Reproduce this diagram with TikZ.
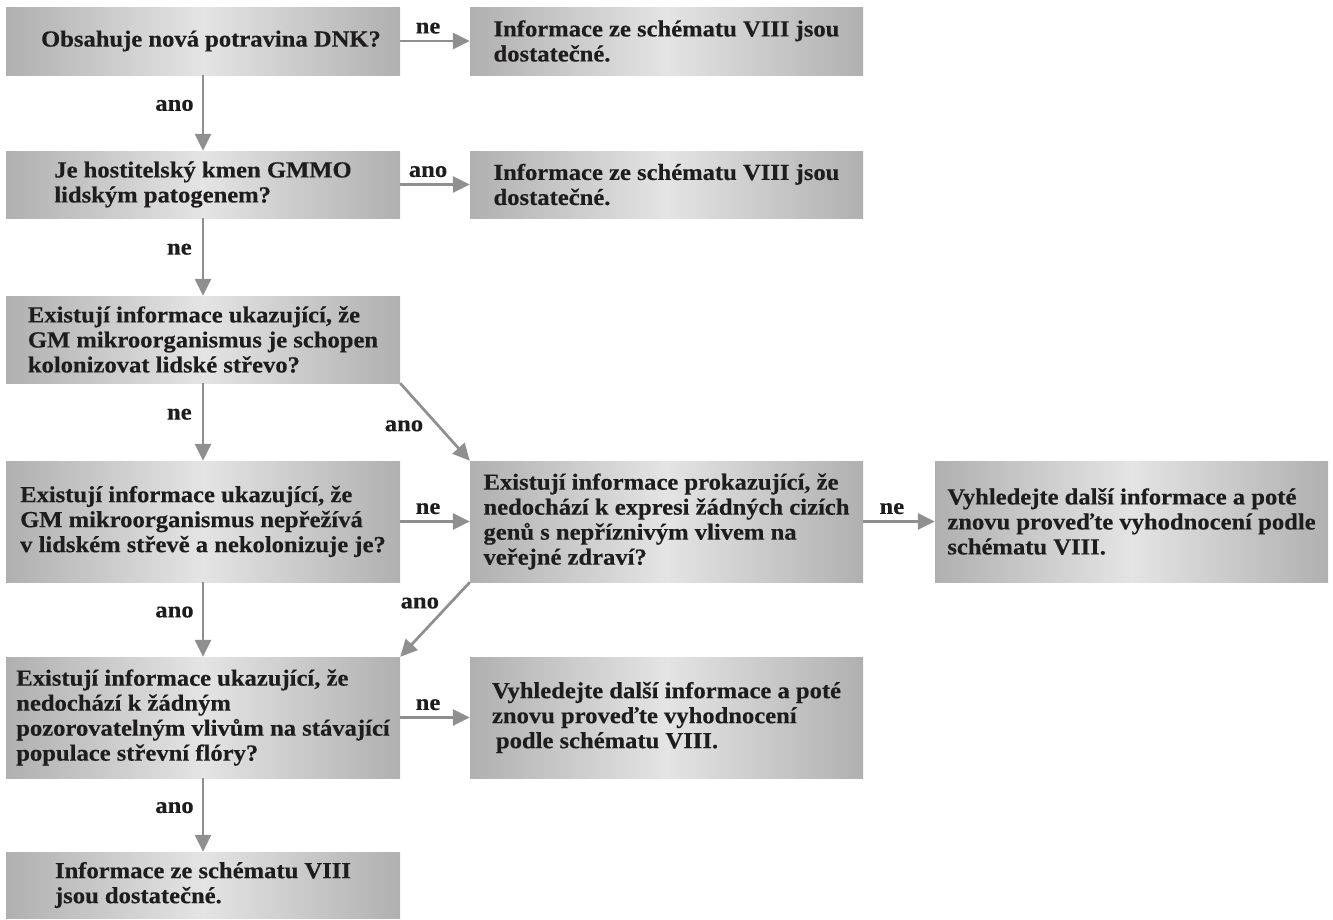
\documentclass[tikz,border=0pt]{standalone}
\usepackage{fontspec}
\setmainfont{Liberation Serif}[FakeStretch=1.07,FakeBold=0.35]
\usetikzlibrary{arrows.meta}

\definecolor{boxedge}{HTML}{B0B0B0}
\definecolor{boxmid}{HTML}{E4E4E4}
\definecolor{arrowgray}{HTML}{8F8F8F}
\definecolor{ink}{HTML}{1E1C1D}

\tikzset{
  x=1pt, y=-1pt,
  flowbox/.style={draw=none, inner sep=0pt, minimum width=394pt,
    left color=boxedge, right color=boxedge, middle color=boxmid,
    align=left, text=ink,
    font=\fontsize{23}{25}\selectfont\bfseries},
  flowarrow/.style={draw=arrowgray, line width=2.7pt,
    -{Triangle[length=17pt,width=16pt]}},
  answer/.style={text=ink, inner sep=2pt,
    font=\fontsize{23}{25}\selectfont\bfseries},
}

\begin{document}
\begin{tikzpicture}
\useasboundingbox (0,0) rectangle (1333,919);

% left column
\node[flowbox, minimum height=68pt] (q1) at (203,41)
  {\hspace*{16pt}Obsahuje nová potravina DNK?};
\node[flowbox, minimum height=67pt] (q2) at (203,184.5)
  {Je hostitelský kmen GMMO\\lidským patogenem?};
\node[flowbox, minimum height=87pt] (q3) at (203,339.5)
  {Existují informace ukazující, že\\GM mikroorganismus je schopen\\kolonizovat lidské střevo?};
\node[flowbox, minimum height=121pt] (q4) at (203,521.5)
  {Existují informace ukazující, že\\GM mikroorganismus nepřežívá\\v lidském střevě a nekolonizuje je?};
\node[flowbox, minimum height=121pt] (q6) at (203,717.5)
  {Existují informace ukazující, že\\nedochází k žádným\\pozorovatelným vlivům na stávající\\populace střevní flóry?};
\node[flowbox, minimum height=66pt] (r4) at (203,885)
  {Informace ze schématu VIII\\jsou dostatečné.};

% middle column
\node[flowbox, minimum width=393pt, minimum height=68pt] (r1) at (666.5,41)
  {Informace ze schématu VIII jsou\\dostatečné.};
\node[flowbox, minimum width=393pt, minimum height=67pt] (r2) at (666.5,184.5)
  {Informace ze schématu VIII jsou\\dostatečné.};
\node[flowbox, minimum width=393pt, minimum height=121pt] (q5) at (666.5,521.5)
  {Existují informace prokazující, že\\nedochází k expresi žádných cizích\\genů s nepříznivým vlivem na\\veřejné zdraví?};
\node[flowbox, minimum width=393pt, minimum height=121pt] (r5) at (666.5,717.5)
  {Vyhledejte další informace a poté\\znovu proveďte vyhodnocení\\\hspace*{4pt}podle schématu VIII.};

% right column
\node[flowbox, minimum width=393pt, minimum height=121pt] (r3) at (1131.5,521.5)
  {Vyhledejte další informace a poté\\znovu proveďte vyhodnocení podle\\schématu VIII.};

% vertical connectors
\draw[flowarrow] (q1) -- (q2) node[answer, pos=0.4, left=6pt] {ano};
\draw[flowarrow] (q2) -- (q3) node[answer, pos=0.4, left=8pt] {ne};
\draw[flowarrow] (q3) -- (q4) node[answer, pos=0.4, left=8pt] {ne};
\draw[flowarrow] (q4) -- (q6) node[answer, pos=0.4, left=6pt] {ano};
\draw[flowarrow] (q6) -- (r4) node[answer, pos=0.4, left=6pt] {ano};

% horizontal connectors
\draw[flowarrow] (q1) -- (r1) node[answer, pos=0.4, above=4pt] {ne};
\draw[flowarrow] (q2) -- (r2) node[answer, pos=0.4, above=4pt] {ano};
\draw[flowarrow] (q4) -- (q5) node[answer, pos=0.4, above=4pt] {ne};
\draw[flowarrow] (q5) -- (r3) node[answer, pos=0.4, above=4pt] {ne};
\draw[flowarrow] (q6) -- (r5) node[answer, pos=0.4, above=4pt] {ne};

% diagonal connectors
\draw[flowarrow] (q3.south east) -- (q5.north west)
  node[answer, pos=0.55, left=12pt] {ano};
\draw[flowarrow] (q5.south west) -- (q6.north east)
  node[answer, pos=0.28, left=8pt] {ano};
\end{tikzpicture}
\end{document}
